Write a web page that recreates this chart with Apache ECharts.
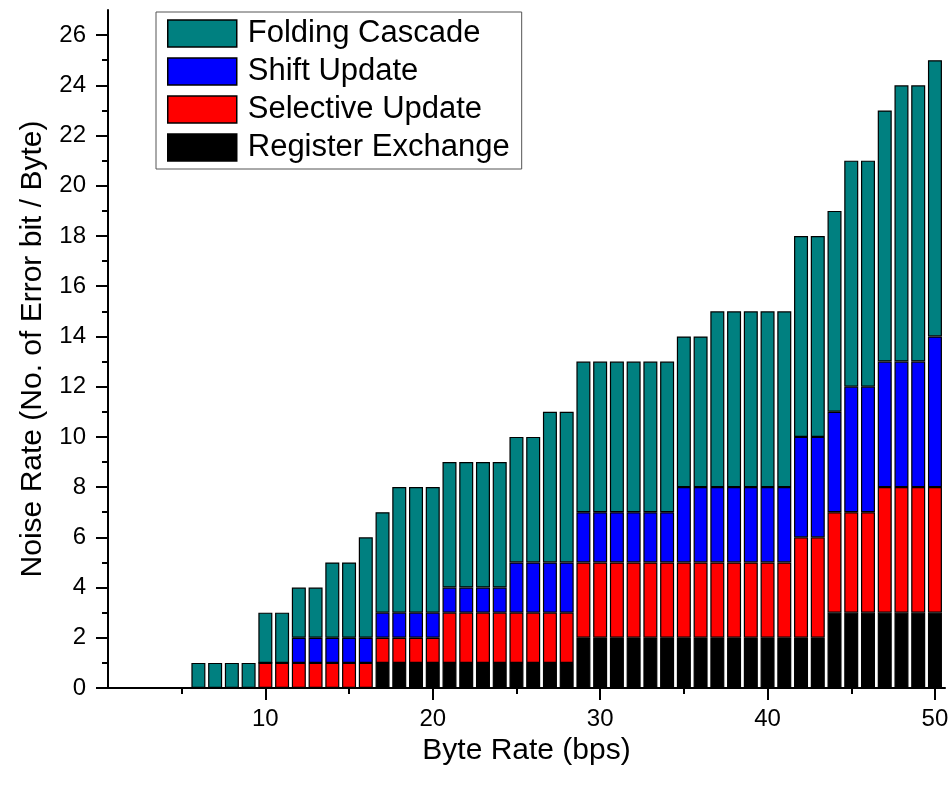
<!DOCTYPE html>
<html><head><meta charset="utf-8">
<script src="https://cdn.jsdelivr.net/npm/echarts@6/dist/echarts.min.js"></script>
<style>html,body{margin:0;padding:0;background:#fff}#c{width:950px;height:787px}</style>
</head><body><div id="c"></div>
<script>
const byteRate = [6,7,8,9,10,11,12,13,14,15,16,17,18,19,20,21,22,23,24,25,26,27,28,29,30,31,32,33,34,35,36,37,38,39,40,41,42,43,44,45,46,47,48,49,50];
const registerExchange = [0,0,0,0,0,0,0,0,0,0,0,1,1,1,1,1,1,1,1,1,1,1,1,2,2,2,2,2,2,2,2,2,2,2,2,2,2,2,3,3,3,3,3,3,3];
const selectiveUpdate  = [0,0,0,0,1,1,1,1,1,1,1,1,1,1,1,2,2,2,2,2,2,2,2,3,3,3,3,3,3,3,3,3,3,3,3,3,4,4,4,4,4,5,5,5,5];
const shiftUpdate      = [0,0,0,0,0,0,1,1,1,1,1,1,1,1,1,1,1,1,1,2,2,2,2,2,2,2,2,2,2,3,3,3,3,3,3,3,4,4,4,5,5,5,5,5,6];
const foldingCascade   = [1,1,1,1,2,2,2,2,3,3,4,4,5,5,5,5,5,5,5,5,5,6,6,6,6,6,6,6,6,6,6,7,7,7,7,7,8,8,8,9,9,10,11,11,11];
const xMajorTicks = [10,20,30,40,50];
const xMinorTicks = [5,15,25,35,45];
const yMajorTicks = [0,2,4,6,8,10,12,14,16,18,20,22,24,26];
const yMinorTicks = [1,3,5,7,9,11,13,15,17,19,21,23,25];

const FONT = 'Liberation Sans, Arial, sans-serif';
// value first so the stack is computed on the value dimension; x encoded from dim 1
const toPairs = arr => byteRate.map((x, i) => [arr[i], x]);
const chart = echarts.init(document.getElementById('c'), null, {renderer: 'canvas'});

function mkSeries(name, data, color) {
  return {
    name, type: 'bar', stack: 'total', data: toPairs(data),
    encode: {x: 1, y: 0},
    barWidth: 14,
    itemStyle: {color, borderColor: '#000', borderWidth: 1.2},
    emphasis: {disabled: true}
  };
}

const xMin = 0.6, xMax = 50.6;
chart.setOption({
  animation: false,
  backgroundColor: '#fff',
  grid: {left: 108, right: 5, top: 10, bottom: 99, containLabel: false, outerBoundsMode: 'none'},
  legend: {
    orient: 'vertical', left: 156, top: 12,
    padding: [6, 12, 6, 11],
    itemWidth: 69, itemHeight: 27, itemGap: 7,
    borderColor: '#555', borderWidth: 1,
    icon: 'rect',
    itemStyle: {borderColor: '#000', borderWidth: 1.5},
    textStyle: {fontSize: 31, fontFamily: FONT, color: '#000', padding: [0, 0, 0, 6]},
    data: ['Folding Cascade', 'Shift Update', 'Selective Update', 'Register Exchange']
  },
  xAxis: [{
    type: 'value', min: xMin, max: xMax,
    name: 'Byte Rate (bps)', nameLocation: 'middle', nameGap: 40,
    nameTextStyle: {fontSize: 30, fontFamily: FONT, color: '#000'},
    axisLine: {show: true, lineStyle: {color: '#000', width: 2}},
    axisTick: {show: true, length: 12, lineStyle: {color: '#000', width: 2}, customValues: xMajorTicks},
    axisLabel: {customValues: xMajorTicks, fontSize: 24, fontFamily: FONT, color: '#000', margin: 19},
    splitLine: {show: false}
  }, {
    type: 'value', min: xMin, max: xMax, position: 'bottom', offset: 0,
    axisLine: {show: false},
    axisTick: {show: true, length: 6, lineStyle: {color: '#000', width: 2}, customValues: xMinorTicks},
    axisLabel: {show: false},
    splitLine: {show: false}
  }],
  yAxis: [{
    type: 'value', min: 0, max: 27,
    name: 'Noise Rate (No. of Error bit / Byte)', nameLocation: 'middle', nameGap: 60,
    nameTextStyle: {fontSize: 30, fontFamily: FONT, color: '#000'},
    axisLine: {show: true, lineStyle: {color: '#000', width: 2}},
    axisTick: {show: true, length: 12, lineStyle: {color: '#000', width: 2}, customValues: yMajorTicks},
    axisLabel: {customValues: yMajorTicks, fontSize: 24, fontFamily: FONT, color: '#000', margin: 22},
    splitLine: {show: false}
  }, {
    type: 'value', min: 0, max: 27, position: 'left', offset: 0,
    axisLine: {show: false},
    axisTick: {show: true, length: 6, lineStyle: {color: '#000', width: 2}, customValues: yMinorTicks},
    axisLabel: {show: false},
    splitLine: {show: false}
  }],
  series: [
    mkSeries('Register Exchange', registerExchange, '#000000'),
    mkSeries('Selective Update', selectiveUpdate, '#FF0000'),
    mkSeries('Shift Update', shiftUpdate, '#0000FF'),
    mkSeries('Folding Cascade', foldingCascade, '#008080')
  ]
});
</script>
</body></html>
